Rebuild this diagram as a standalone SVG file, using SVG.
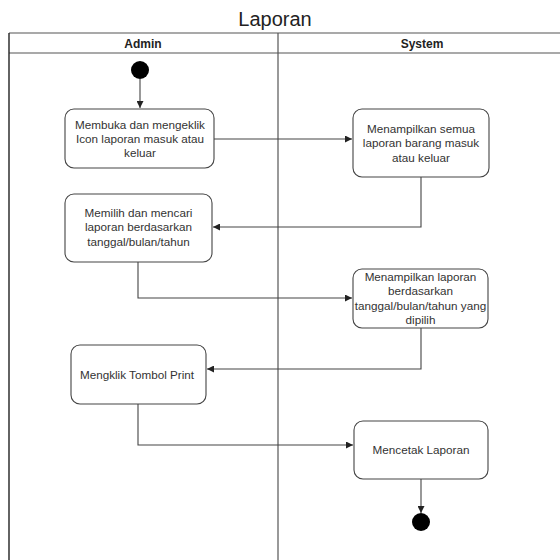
<svg xmlns="http://www.w3.org/2000/svg" width="560" height="560" viewBox="0 0 560 560">
  <defs>
    <marker id="arrow" viewBox="0 0 8 8" refX="8" refY="4" markerWidth="7" markerHeight="7" markerUnits="userSpaceOnUse" orient="auto">
      <path d="M0,0 L8,4 L0,8 Z" fill="#222"/>
    </marker>
    <style>
      .lane { fill: none; stroke: #555; stroke-width: 1.2; }
      .act { fill: #fff; stroke: #444; stroke-width: 1.1; }
      .lbl { font-family: "Liberation Sans", Arial, sans-serif; font-size: 11.7px; fill: #333; text-anchor: middle; }
      .hdr { font-family: "Liberation Sans", Arial, sans-serif; font-size: 12px; font-weight: bold; fill: #222; text-anchor: middle; }
      .edge { fill: none; stroke: #444; stroke-width: 1.1; marker-end: url(#arrow); }
      .dot { fill: #000; }
    </style>
  </defs>

  <rect width="560" height="560" fill="#fff"/>

  <!-- title -->
  <text x="275" y="26" font-family="'Liberation Sans', Arial, sans-serif" font-size="20" fill="#222" text-anchor="middle">Laporan</text>

  <!-- swimlanes -->
  <g id="lanes">
    <line x1="9" y1="33" x2="560" y2="33" class="lane"/>
    <line x1="9" y1="53" x2="560" y2="53" class="lane"/>
    <line x1="9" y1="33" x2="9" y2="560" stroke="#222" stroke-width="1.4"/>
    <line x1="278" y1="33" x2="278" y2="560" class="lane"/>
    <text x="143" y="47.5" class="hdr">Admin</text>
    <text x="422" y="47.5" class="hdr">System</text>
  </g>

  <!-- connectors -->
  <g id="connectors">
    <path class="edge" d="M140,79 L140,108"/>
    <path class="edge" d="M214,139 L352,139"/>
    <path class="edge" d="M421,177 L421,227 L213,227"/>
    <path class="edge" d="M138,262 L138,298 L352,298"/>
    <path class="edge" d="M421,328 L421,369 L207,369"/>
    <path class="edge" d="M138,404 L138,445 L353,445"/>
    <path class="edge" d="M421,479 L421,513"/>
  </g>

  <!-- nodes -->
  <g id="start">
    <circle class="dot" cx="140" cy="70" r="9"/>
  </g>

  <g id="buka-laporan">
    <rect class="act" x="65" y="109" width="149" height="59" rx="9"/>
    <text class="lbl" x="140" y="128.5">Membuka dan mengeklik</text>
    <text class="lbl" x="140" y="142.8">Icon laporan masuk atau</text>
    <text class="lbl" x="140" y="157">keluar</text>
  </g>

  <g id="tampil-semua">
    <rect class="act" x="353" y="109" width="136" height="68" rx="9"/>
    <text class="lbl" x="421" y="133">Menampilkan semua</text>
    <text class="lbl" x="421" y="147.3">laporan barang masuk</text>
    <text class="lbl" x="421" y="161.6">atau keluar</text>
  </g>

  <g id="pilih-laporan">
    <rect class="act" x="65" y="194" width="147" height="68" rx="9"/>
    <text class="lbl" x="138.5" y="217">Memilih dan mencari</text>
    <text class="lbl" x="138.5" y="231.3">laporan berdasarkan</text>
    <text class="lbl" x="138.5" y="245.6">tanggal/bulan/tahun</text>
  </g>

  <g id="tampil-pilihan">
    <rect class="act" x="353" y="269" width="135" height="59" rx="9"/>
    <text class="lbl" x="420.5" y="281">Menampilkan laporan</text>
    <text class="lbl" x="420.5" y="295.4">berdasarkan</text>
    <text class="lbl" x="420.5" y="309.8">tanggal/bulan/tahun yang</text>
    <text class="lbl" x="420.5" y="324">dipilih</text>
  </g>

  <g id="klik-print">
    <rect class="act" x="71" y="345" width="135" height="59" rx="9"/>
    <text class="lbl" x="137" y="379">Mengklik Tombol Print</text>
  </g>

  <g id="cetak-laporan">
    <rect class="act" x="354" y="421" width="134" height="58" rx="9"/>
    <text class="lbl" x="421" y="453.5">Mencetak Laporan</text>
  </g>

  <g id="end">
    <circle class="dot" cx="421" cy="522" r="9"/>
  </g>
</svg>
